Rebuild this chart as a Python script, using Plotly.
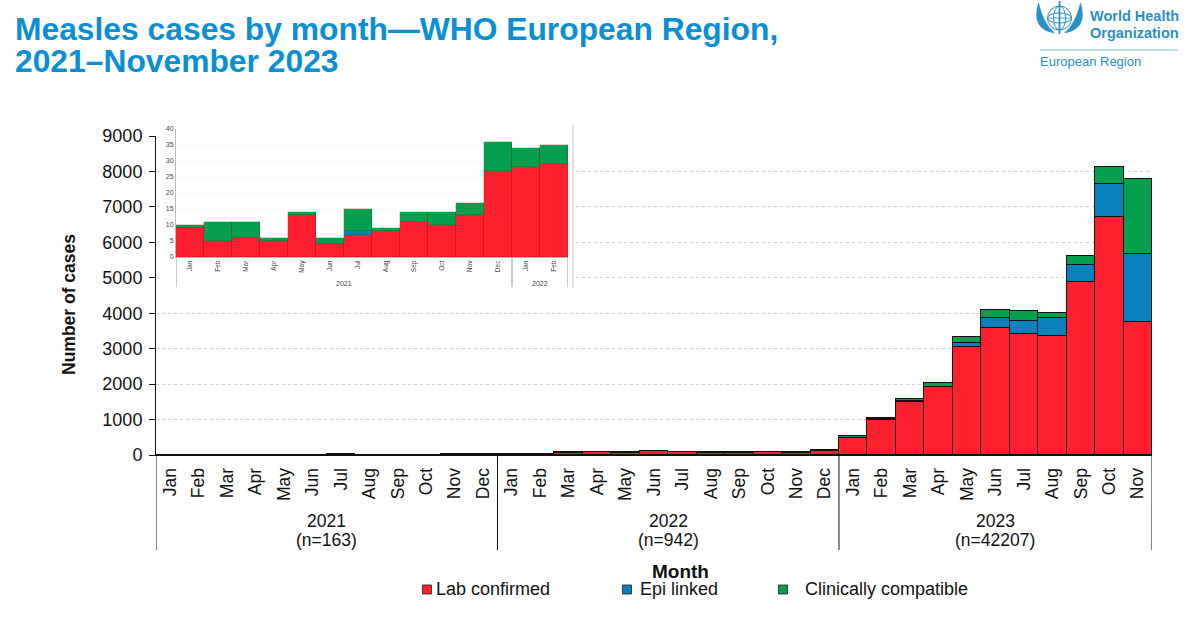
import plotly.graph_objects as go

W, H = 1200, 636
MONTHS = ["Jan","Feb","Mar","Apr","May","Jun","Jul","Aug","Sep","Oct","Nov","Dec"]
months_main = MONTHS + MONTHS + MONTHS[:11]
idx_main = list(range(len(months_main)))

lab_2021 = [9,5,6,5,13,4,7,8,11,10,13,27]
epi_2021 = [0,0,0,0,0,0,1,0,0,0,0,0]
cli_2021 = [1,6,5,1,1,2,7,1,3,4,4,9]
lab_2022 = [28,29,60,75,62,100,72,60,60,75,62,125]
epi_2022 = [0,0,2,2,2,2,3,2,2,2,3,5]
cli_2022 = [6,6,10,8,8,12,12,10,10,10,15,15]
lab_2023 = [470,1000,1505,1920,3040,3576,3416,3369,4875,6710,3745]
epi_2023 = [6,3,5,10,130,301,376,489,479,931,1920]
cli_2023 = [60,32,70,110,150,207,264,142,273,480,2127]

lab = lab_2021 + lab_2022 + lab_2023
epi = epi_2021 + epi_2022 + epi_2023
cli = cli_2021 + cli_2022 + cli_2023

inset_months = MONTHS + MONTHS[:2]
inset_idx = list(range(len(inset_months)))
inset_lab = lab_2021 + lab_2022[:2]
inset_epi = epi_2021 + epi_2022[:2]
inset_cli = cli_2021 + cli_2022[:2]

year_labels = ["2021", "2022", "2023"]
year_counts = ["(n=163)", "(n=942)", "(n=42207)"]
year_centers = [5.5, 17.5, 29]
year_edges = [-0.5, 11.5, 23.5, 34.5]
inset_years = ["2021", "2022"]
inset_year_centers = [5.5, 12.5]
inset_year_edges = [-0.5, 11.5, 13.5]
y_ticks = [0,1000,2000,3000,4000,5000,6000,7000,8000,9000]
inset_ticks = [0,5,10,15,20,25,30,35,40]
series_names = ["Lab confirmed", "Epi linked", "Clinically compatible"]
series_colors = ["#ff1f2e", "#0a80bd", "#04a04e"]
legend_swatch_px = [427, 627, 783]
legend_text_px = [434, 638, 803]

BLUE = "#0b8fd3"
FONT = "Liberation Sans, Arial, sans-serif"
px = lambda v: v / W
py = lambda v: 1 - v / H

fig = go.Figure()
for name, vals, col in zip(series_names, [lab, epi, cli], series_colors):
    fig.add_bar(x=idx_main, y=vals, name=name, marker=dict(color=col, line=dict(color="#111", width=1)),
                width=1, showlegend=False, xaxis="x", yaxis="y")
for name, vals, col in zip(series_names, [inset_lab, inset_epi, inset_cli], series_colors):
    fig.add_bar(x=inset_idx, y=vals, name=name, marker=dict(color=col, line=dict(color="rgba(120,0,0,0.35)", width=0.5)),
                width=1, showlegend=False, xaxis="x2", yaxis="y2")

shapes = []
annos = []
def txt(x, y, t, size, color="#111", bold=False, anchor="left", angle=0, xref="paper", yref="paper", family=FONT):
    annos.append(dict(x=x, y=y, xref=xref, yref=yref, text=f"<b>{t}</b>" if bold else t, showarrow=False,
                      font=dict(size=size, color=color, family=family), xanchor=anchor, yanchor="middle",
                      textangle=angle, align="center"))
def line(x0, y0, x1, y1, color, width=1, xref="paper", yref="paper", layer="above"):
    shapes.append(dict(type="line", x0=x0, y0=y0, x1=x1, y1=y1, xref=xref, yref=yref, layer=layer,
                       line=dict(color=color, width=width)))

# white backing behind the inset hides the main gridlines there
shapes.append(dict(type="rect", xref="x", yref="y", layer="between", x0=-0.4, x1=14.15, y0=4660, y1=9200,
                   fillcolor="white", line=dict(width=0)))

# year dividers and labels
for e in year_edges:
    line(e, py(455), e, py(550), "#111", 1, xref="x")
for c, t, n in zip(year_centers, year_labels, year_counts):
    txt(c, py(521), t, 17.5, anchor="center", xref="x")
    txt(c, py(540), n, 17.5, anchor="center", xref="x")
# inset dividers
for e in inset_year_edges:
    line(e, py(257), e, py(287), "#aaa", 1.2, xref="x2")
for c, t in zip(inset_year_centers, inset_years):
    txt(c, py(283), t, 7, color="#444", anchor="center", xref="x2")
line(px(573), py(125), px(573), py(288), "#c4c4c4", 1)

# titles
txt(px(13), py(29), "Measles cases by month—WHO European Region,", 31.8, color=BLUE, bold=True)
txt(px(13), py(61), "2021–November 2023", 31.8, color=BLUE, bold=True)
txt(px(69), py(305), "Number of cases", 17.5, bold=True, anchor="center", angle=-90)
txt(px(680), py(571), "Month", 19, bold=True, anchor="center")

# legend
for sx, tx, name, col in zip(legend_swatch_px, legend_text_px, series_names, series_colors):
    shapes.append(dict(type="rect", xref="paper", yref="paper", x0=px(sx-4.5), x1=px(sx+4.5), y0=py(594), y1=py(585),
                       fillcolor=col, line=dict(color="#222", width=0.8)))
    txt(px(tx), py(589), name, 18)

# logo
LOGO = "#2a8fc4"
txt(px(1088), py(16), "World Health", 14.5, color=LOGO, bold=True)
txt(px(1088), py(33), "Organization", 14.5, color=LOGO, bold=True)
txt(px(1038), py(62), "European Region", 13, color=LOGO)
line(px(1040), py(50), px(1178), py(50), "#7fbcdc", 1)
cx, cy = 1059.5, 18
for rx, ry in [(12, 12), (6, 12), (12, 5)]:
    shapes.append(dict(type="circle", xref="paper", yref="paper", x0=px(cx-rx), x1=px(cx+rx), y0=py(cy+ry), y1=py(cy-ry),
                       line=dict(color=LOGO, width=1)))
line(px(cx), py(1), px(cx), py(34), LOGO, 1.8)
line(px(cx-12), py(cy), px(cx+12), py(cy), LOGO, 0.8)
for s in (-1, 1):
    path = (f"M {px(cx+s*5)} {py(33)} Q {px(cx+s*29)} {py(29)} {px(cx+s*21)} {py(3)} "
            f"Q {px(cx+s*16)} {py(24)} {px(cx+s*5)} {py(33)} Z")
    shapes.append(dict(type="path", xref="paper", yref="paper", path=path, fillcolor=LOGO, line=dict(color=LOGO, width=0.5)))

fig.update_layout(
    width=W, height=H, margin=dict(l=0, r=0, t=0, b=0, autoexpand=False), paper_bgcolor="white", plot_bgcolor="white",
    barmode="stack", bargap=0, shapes=shapes, annotations=annos, font=dict(family=FONT, color="#111"),
    showlegend=False,
    xaxis=dict(domain=[px(156), px(1152)], range=[-0.5, 34.5], tickmode="array", tickvals=idx_main, ticktext=months_main,
               tickangle=-90, tickfont=dict(size=17.5, color="#111"), ticks="", ticklabelstandoff=5, showgrid=False,
               zeroline=False, showline=True, linecolor="#111", linewidth=1, anchor="y"),
    yaxis=dict(domain=[py(455), py(136)], range=[0, 9000], tickmode="array", tickvals=y_ticks,
               tickfont=dict(size=18, color="#111"), ticks="outside", ticklen=6, tickcolor="#111", ticklabelstandoff=3,
               showline=True, linecolor="#111", linewidth=1, showgrid=True, gridcolor="#cfcfcf", griddash="dot",
               gridwidth=1, zeroline=False, anchor="x"),
    xaxis2=dict(domain=[px(176), px(568)], range=[-0.5, 13.5], tickmode="array", tickvals=inset_idx, ticktext=inset_months,
                tickangle=-90, tickfont=dict(size=6.5, color="#444"), ticks="", showgrid=False, zeroline=False,
                showline=True, linecolor="#bbb", linewidth=1, anchor="y2"),
    yaxis2=dict(domain=[py(257), py(129)], range=[0, 40], tickmode="array", tickvals=inset_ticks,
                tickfont=dict(size=7, color="#444"), ticks="", showline=True, linecolor="#bbb", linewidth=1,
                showgrid=True, gridcolor="#f6f6f6", gridwidth=1, zeroline=False, anchor="x2"),
)
fig.write_html("out.html", post_script="document.body.style.margin='0';", config={"displayModeBar": False})
